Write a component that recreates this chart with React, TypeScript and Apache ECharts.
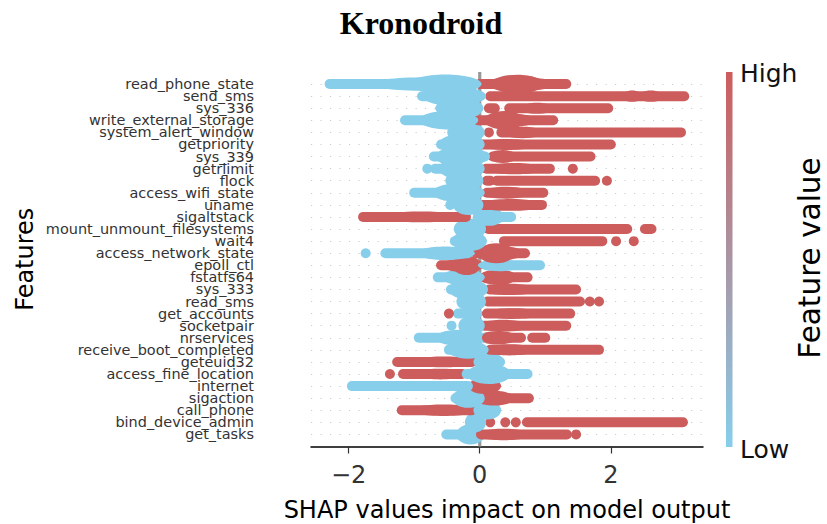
import React, { useEffect, useRef } from "react";
import * as echarts from "echarts";

const features = [
  "read_phone_state","send_sms","sys_336","write_external_storage","system_alert_window","getpriority","sys_339","getrlimit","flock","access_wifi_state",
  "uname","sigaltstack","mount_unmount_filesystems","wait4","access_network_state","epoll_ctl","fstatfs64","sys_333","read_sms","get_accounts",
  "socketpair","nrservices","receive_boot_completed","geteuid32","access_fine_location","internet","sigaction","call_phone","bind_device_admin","get_tasks",
];
const xTicks = [-2, 0, 2];
const zeroLine = [[0, -1], [0, 30]];

// [row, from SHAP, to SHAP, swarm spread in rows]
const highSpans = [
  [0,0,1.32,0],[0,0.1,1.1,0.15],[0,0.25,0.9,0.36],
  [1,0.16,3.12,0],[1,2.25,2.4,0.05],[1,2.5,2.72,0.05],
  [2,0.14,0.23,0],[2,0.45,1.96,0],[2,0.7,1.05,0.05],
  [3,-0.03,1.12,0],[3,0.05,0.8,0.15],[3,0.15,0.6,0.36],
  [4,0.14,0.14,0],[4,0.33,3.07,0],[4,0.4,0.9,0.06],
  [5,0.02,2.0,0],[5,0.02,0.8,0.04],
  [6,0.2,1.69,0],[6,0.2,0.5,0.12],
  [7,0.1,1.07,0],[7,1.42,1.42,0],[7,0.15,0.9,0.05],
  [8,0.11,0.16,0],[8,0.26,1.76,0],[8,1.94,1.94,0],
  [9,0.11,0.97,0],[9,0.1,0.7,0.08],
  [10,0.03,0.95,0],[10,0.03,0.9,0.08],
  [11,-1.78,-0.21,0],[11,-1.5,-0.3,0.03],
  [12,0.13,2.25,0],[12,2.52,2.62,0],
  [13,0.37,1.87,0],[13,2.08,2.08,0],[13,2.35,2.35,0],
  [14,-0.05,0.69,0],[14,-0.05,0.6,0.18],[14,0.05,0.45,0.42],
  [15,-0.59,-0.06,0],[15,-0.5,0,0.15],[15,-0.34,-0.06,0.4],
  [16,0.11,0.73,0],[16,0.05,0.5,0.22],
  [17,0.15,1.47,0],[17,0.1,0.8,0.05],
  [18,0.12,1.53,0],[18,1.68,1.68,0],[18,1.82,1.82,0],
  [19,0.11,1.38,0],[19,0.1,0.9,0.03],
  [20,0.07,1.32,0],[20,0.05,0.7,0.07],
  [21,0.11,0.63,0],[21,0.8,1.0,0],[21,0.05,0.5,0.15],
  [22,0.16,1.82,0],[22,0.1,0.8,0.05],
  [23,-1.26,-0.12,0],[23,-1.0,-0.1,0.03],
  [24,-1.37,-1.37,0],[24,-1.17,-0.27,0],[24,-1.0,-0.2,0.03],
  [25,-0.04,0.2,0],[25,-0.1,0.25,0.25],
  [26,0.08,0.75,0],[26,0,0.45,0.2],
  [27,-1.19,-0.12,0],[27,-1.0,-0.1,0.06],
  [28,0.16,0.16,0],[28,0.39,0.39,0],[28,0.55,0.55,0],[28,0.72,3.1,0],
];
const lowSpans = [
  [0,-2.29,-0.1,0],[0,-1.6,-0.05,0.15],[0,-1.0,-0.05,0.38],
  [1,-0.88,-0.01,0],[1,-0.8,0.02,0.38],
  [2,-0.6,-0.09,0.1],[2,-0.6,-0.02,0.45],
  [3,-1.14,-0.18,0],[3,-0.85,-0.1,0.35],
  [4,-0.39,-0.01,0.1],[4,-0.42,0,0.45],
  [5,-0.59,-0.07,0],[5,-0.55,0,0.45],
  [6,-0.7,0.08,0],[6,-0.6,0.05,0.45],
  [7,-0.8,-0.8,0],[7,-0.68,-0.04,0],[7,-0.55,0,0.45],
  [8,-0.41,-0.12,0.08],[8,-0.45,-0.02,0.45],
  [9,-1.0,-0.05,0],[9,-0.65,0,0.35],
  [10,-0.45,-0.45,0],[10,-0.3,-0.12,0.1],[10,-0.33,-0.02,0.42],
  [11,0,0.48,0],[11,-0.03,0.3,0.32],
  [12,-0.3,-0.03,0.1],[12,-0.32,0.02,0.45],
  [13,-0.38,0.03,0],[13,-0.35,0.03,0.4],
  [14,-1.74,-1.74,0],[14,-1.44,-0.18,0],[14,-0.9,-0.15,0.15],
  [15,0.1,0.92,0],[15,0.05,0.55,0.08],
  [16,-0.64,-0.04,0],[16,-0.5,0,0.25],
  [17,-0.44,0.03,0],[17,-0.4,0.05,0.4],
  [18,-0.24,-0.03,0.1],[18,-0.28,0.02,0.42],
  [19,-0.33,-0.04,0],
  [20,-0.43,-0.43,0],[20,-0.2,-0.07,0.1],[20,-0.25,0,0.4],
  [21,-0.93,-0.1,0],[21,-0.6,-0.02,0.25],[21,-0.1,0.08,0],
  [22,-0.47,0.02,0],[22,-0.42,0.06,0.32],
  [23,0.03,0.31,0],[23,-0.02,0.3,0.32],
  [24,-0.2,0.73,0],[24,-0.12,0.4,0.42],
  [25,-1.95,-0.18,0],
  [26,-0.37,-0.07,0],[26,-0.35,0,0.38],
  [27,0.02,0.23,0],[27,-0.02,0.25,0.35],
  [28,-0.12,-0.01,0.1],[28,-0.15,0.02,0.42],
  [29,-0.51,-0.07,0],[29,-0.28,0,0.42],
];
const overSpans = [
  [19,-0.47,-0.47,0],
  [21,0.11,0.25,0],
  [29,0.02,1.33,0],[29,1.47,1.47,0],[29,0.02,0.7,0.06],
];

const RED = "#CD5C5C";
const BLUE = "#87CEEB";

function layered() {
  const rows: number[][] = [];
  for (let r = features.length - 1; r >= 0; r--) {
    const pick = (list: number[][], color: number) =>
      list.filter((s) => s[0] === r).forEach((s) => rows.push([s[0], s[1], s[2], s[3], color]));
    pick(highSpans, 1);
    pick(lowSpans, 0);
    pick(overSpans, 1);
  }
  return rows;
}

export default function App() {
  const ref = useRef<HTMLDivElement>(null);
  useEffect(() => {
    const chart = echarts.init(ref.current!, undefined, { renderer: "svg" });
    const font = "DejaVu Sans";
    chart.setOption({
      animation: false,
      backgroundColor: "#fff",
      title: {
        text: "Kronodroid",
        left: 416,
        top: 2,
        textAlign: "center",
        textStyle: { fontFamily: "Liberation Serif", fontWeight: "bold", fontSize: 32, color: "#000" },
      },
      grid: { left: 311, top: 72, width: 392, height: 374.5, outerBoundsMode: "none" },
      xAxis: {
        type: "value",
        min: -2.574,
        max: 3.406,
        name: "SHAP values impact on model output",
        nameLocation: "middle",
        nameGap: 51,
        nameTextStyle: { fontFamily: font, fontSize: 24, color: "#000" },
        splitLine: { show: false },
        axisLine: { show: true, onZero: false, lineStyle: { color: "#000", width: 1.5 } },
        axisTick: { show: true, customValues: xTicks, length: 7, lineStyle: { color: "#333", width: 1.2 } },
        axisLabel: {
          customValues: xTicks,
          fontFamily: font,
          fontSize: 24,
          color: "#333",
          margin: 16,
          formatter: (v: number) => (v < 0 ? "\u2212" + Math.abs(v) : String(v)),
        },
      },
      yAxis: {
        type: "value",
        inverse: true,
        min: -1,
        max: 30,
        interval: 1,
        name: "Features",
        nameLocation: "middle",
        nameGap: 274,
        nameTextStyle: { fontFamily: font, fontSize: 24, color: "#000" },
        axisLine: { show: false },
        axisTick: { show: false },
        splitLine: {
          show: true,
          showMinLine: false,
          showMaxLine: false,
          lineStyle: { type: [1.2, 8.3], color: "#ccc", width: 1 },
        },
        axisLabel: {
          fontFamily: font,
          fontSize: 14.45,
          color: "#333",
          margin: 57,
          padding: [2, 0, 0, 0],
          formatter: (v: number) => features[v] ?? "",
        },
      },
      series: [
        {
          type: "line",
          data: zeroLine,
          symbol: "none",
          silent: true,
          z: 1,
          lineStyle: { color: "#999", width: 3.2 },
        },
        {
          type: "custom",
          z: 2,
          silent: true,
          clip: false,
          data: layered(),
          encode: { x: [1, 2], y: 0 },
          renderItem: (_: any, api: any) => {
            const row = api.value(0);
            const a = api.coord([api.value(1), row]);
            const b = api.coord([api.value(2), row]);
            const pitch = api.size([0, 1])[1];
            const base = 10;
            const spread = api.value(3) * pitch;
            const color = api.value(4) ? RED : BLUE;
            if (api.value(1) === api.value(2)) {
              return { type: "circle", shape: { cx: a[0], cy: a[1], r: base / 2 }, style: { fill: color } };
            }
            if (spread > 0) {
              return {
                type: "ellipse",
                shape: { cx: (a[0] + b[0]) / 2, cy: a[1], rx: (b[0] - a[0]) / 2 + base / 2, ry: base / 2 + spread },
                style: { fill: color },
              };
            }
            return {
              type: "line",
              shape: { x1: a[0], y1: a[1], x2: b[0], y2: b[1] },
              style: { stroke: color, lineWidth: base, lineCap: "round", fill: null },
            };
          },
        },
      ],
      graphic: [
        {
          type: "rect",
          shape: { x: 726, y: 72, width: 6.5, height: 375 },
          style: {
            fill: new echarts.graphic.LinearGradient(0, 0, 0, 1, [
              { offset: 0, color: RED },
              { offset: 1, color: BLUE },
            ]),
          },
        },
        { type: "text", x: 740, y: 73, style: { text: "High", fontFamily: font, fontSize: 25, fill: "#111", textVerticalAlign: "middle" } },
        { type: "text", x: 740, y: 449, style: { text: "Low", fontFamily: font, fontSize: 25, fill: "#111", textVerticalAlign: "middle" } },
        {
          type: "text",
          x: 810,
          y: 258,
          rotation: Math.PI / 2,
          style: { text: "Feature value", fontFamily: font, fontSize: 29.5, lineHeight: 24, fill: "#000", textAlign: "center", textVerticalAlign: "middle" },
        },
      ],
    });
    return () => chart.dispose();
  }, []);
  return <div ref={ref} style={{ position: "absolute", left: 0, top: 0, width: 827, height: 524 }} />;
}
